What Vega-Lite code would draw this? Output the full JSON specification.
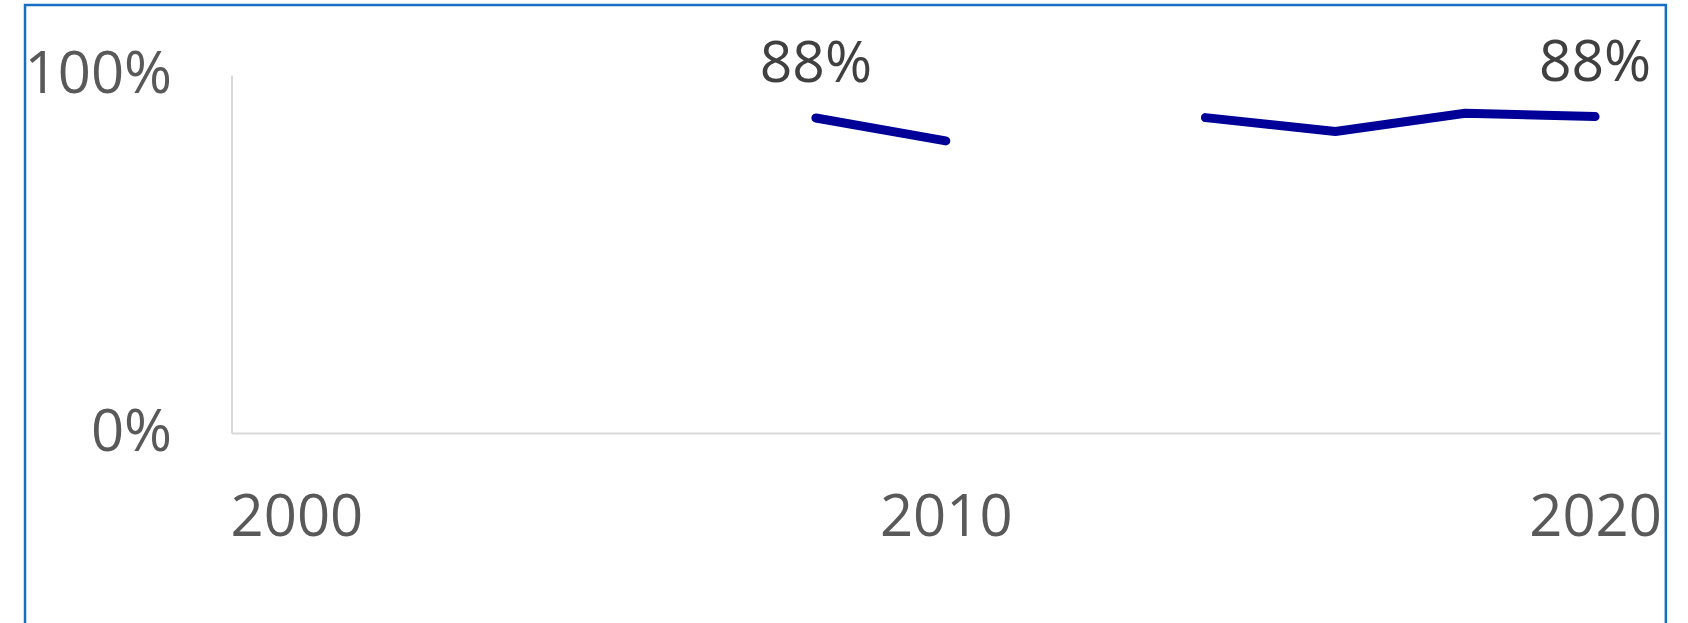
{
  "$schema": "https://vega.github.io/schema/vega-lite/v6.json",
  "autosize": "none",
  "width": 1428.5,
  "height": 358,
  "padding": {"left": 231.5, "top": 75, "right": 28, "bottom": 190},
  "background": "white",
  "config": {"view": {"stroke": null}, "font": "Open Sans"},
  "data": {
    "values": [
      {"year": 2008, "share": 0.88},
      {"year": 2010, "share": 0.816},
      {"year": 2012, "share": null},
      {"year": 2014, "share": 0.881},
      {"year": 2016, "share": 0.842},
      {"year": 2018, "share": 0.893},
      {"year": 2020, "share": 0.884}
    ]
  },
  "layer": [
    {
      "mark": {"type": "line", "color": "#000099", "strokeWidth": 9, "strokeCap": "round", "strokeJoin": "round", "invalid": "break-paths-show-domains"},
      "encoding": {
        "x": {"field": "year", "type": "quantitative",
          "scale": {"domain": [1999, 2021], "nice": false, "zero": false},
          "axis": {"values": [2000, 2010, 2020], "format": "d", "title": null, "grid": false, "ticks": false, "tickSize": 0,
            "labelFontSize": 58, "labelColor": "#595959", "labelPadding": 56, "labelFont": "Open Sans",
            "domainColor": "#d9d9d9", "domainWidth": 2, "labelFlush": false, "labelOverlap": false}},
        "y": {"field": "share", "type": "quantitative",
          "scale": {"domain": [0, 1], "nice": false},
          "axis": {"values": [0, 1], "format": ".0%", "title": null, "grid": false, "ticks": false, "tickSize": 0,
            "labelFontSize": 58, "labelColor": "#595959", "labelPadding": 60, "labelFont": "Open Sans",
            "domainColor": "#d9d9d9", "domainWidth": 2, "labelFlush": false, "labelOverlap": false}}
      }
    },
    {
      "transform": [{"filter": "datum.year == 2008 || datum.year == 2020"}],
      "mark": {"type": "text", "fontSize": 57, "color": "#404040", "baseline": "alphabetic", "align": "center", "dy": -36, "font": "Open Sans"},
      "encoding": {
        "x": {"field": "year", "type": "quantitative"},
        "y": {"field": "share", "type": "quantitative"},
        "text": {"field": "share", "type": "quantitative", "format": ".0%"}
      }
    },
    {
      "data": {"values": [{"frame": "border"}]},
      "mark": {"type": "rect", "fill": null, "stroke": "#1470C4", "strokeWidth": 2.5, "clip": false},
      "encoding": {
        "x": {"datum": 1995.82, "type": "quantitative"},
        "x2": {"datum": 2021.09},
        "y": {"datum": 1.1955, "type": "quantitative"},
        "y2": {"datum": -0.6}
      }
    }
  ]
}
